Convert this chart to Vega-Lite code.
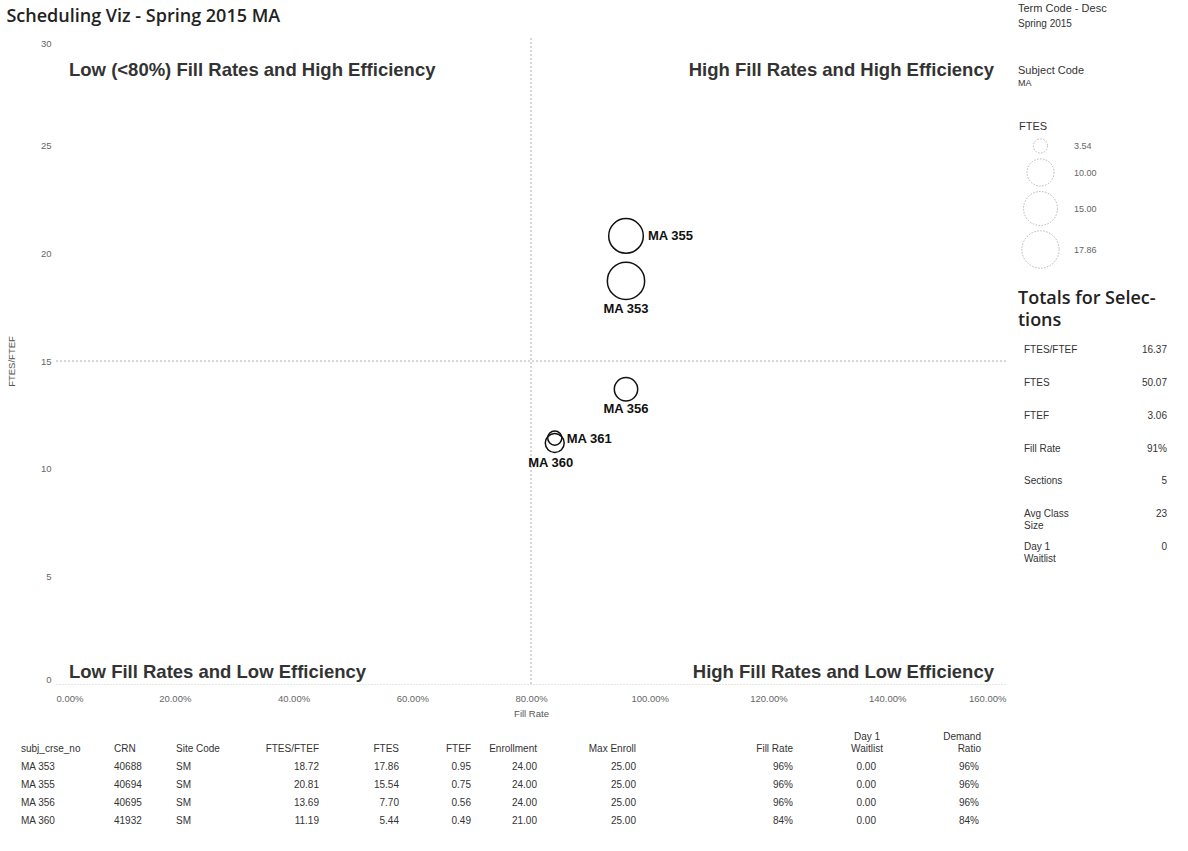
{
  "$schema": "https://vega.github.io/schema/vega-lite/v6.json",
  "background": "white",
  "padding": {"left": 6, "top": 3, "right": 0, "bottom": 0},
  "datasets": {
    "sections": [
      {"course": "MA 353", "crn": "40688", "site": "SM", "ratio": 18.72, "ftes": 17.86, "ftef": 0.95, "enrollment": 24, "max_enroll": 25, "fill_rate": 0.96, "waitlist": 0, "demand_ratio": 0.96},
      {"course": "MA 355", "crn": "40694", "site": "SM", "ratio": 20.81, "ftes": 15.54, "ftef": 0.75, "enrollment": 24, "max_enroll": 25, "fill_rate": 0.96, "waitlist": 0, "demand_ratio": 0.96},
      {"course": "MA 356", "crn": "40695", "site": "SM", "ratio": 13.69, "ftes": 7.70, "ftef": 0.56, "enrollment": 24, "max_enroll": 25, "fill_rate": 0.96, "waitlist": 0, "demand_ratio": 0.96},
      {"course": "MA 360", "crn": "41932", "site": "SM", "ratio": 11.19, "ftes": 5.44, "ftef": 0.49, "enrollment": 21, "max_enroll": 25, "fill_rate": 0.84, "waitlist": 0, "demand_ratio": 0.84},
      {"course": "MA 361", "crn": null, "site": "SM", "ratio": 11.42, "ftes": 3.54, "ftef": 0.31, "enrollment": 21, "max_enroll": 25, "fill_rate": 0.84, "waitlist": 0, "demand_ratio": 0.84}
    ],
    "totals": [
      {"metric": "FTES/FTEF", "value": "16.37"},
      {"metric": "FTES", "value": "50.07"},
      {"metric": "FTEF", "value": "3.06"},
      {"metric": "Fill Rate", "value": "91%"},
      {"metric": "Sections", "value": "5"},
      {"metric": "Avg Class\nSize", "value": "23"},
      {"metric": "Day 1\nWaitlist", "value": "0"}
    ]
  },
  "config": {
    "font": "Liberation Sans",
    "view": {"stroke": null},
    "title": {"font": "Liberation Sans", "fontSize": 11, "fontWeight": "normal", "color": "#333", "anchor": "start", "subtitleFont": "Liberation Sans", "subtitleFontSize": 10, "subtitleColor": "#333"},
    "text": {"font": "Liberation Sans", "fontSize": 10, "color": "#333"},
    "axis": {"labelFont": "Liberation Sans", "titleFont": "Liberation Sans", "labelColor": "#666", "titleColor": "#555", "titleFontWeight": "normal", "labelFontSize": 9.5, "titleFontSize": 9.5, "ticks": false, "tickSize": 0, "grid": false, "domain": false},
    "legend": {"labelFont": "Liberation Sans", "titleFont": "Liberation Sans"}
  },
  "spacing": 14,
  "vconcat": [
    {
      "bounds": "flush",
      "spacing": 12,
      "hconcat": [
        {"width": 23, "height": 646, "data": {"values": []}, "mark": "text"},
        {
          "width": 950,
          "height": 646,
          "title": {"text": "Scheduling Viz - Spring 2015 MA", "anchor": "start", "font": "Open Sans", "fontSize": 18, "fontWeight": 600, "color": "#222", "offset": 12},
          "data": {"name": "sections"},
          "layer": [
            {
              "data": {"values": [{}]},
              "mark": {"type": "rule", "color": "#b0b0b0", "strokeWidth": 1, "strokeDash": [2, 2]},
              "encoding": {"x": {"datum": 0.8, "type": "quantitative"}}
            },
            {
              "data": {"values": [{}]},
              "mark": {"type": "rule", "color": "#b0b0b0", "strokeWidth": 1, "strokeDash": [2, 2]},
              "encoding": {"y": {"datum": 15, "type": "quantitative"}}
            },
            {
              "data": {"values": [{"label": "Low (<80%) Fill Rates and High Efficiency"}]},
              "mark": {"type": "text", "align": "left", "baseline": "middle", "dx": 13, "dy": 32, "fontSize": 18.5, "fontWeight": "bold", "color": "#333"},
              "encoding": {"x": {"datum": 0, "type": "quantitative"}, "y": {"datum": 30, "type": "quantitative"}, "text": {"field": "label"}}
            },
            {
              "data": {"values": [{"label": "High Fill Rates and High Efficiency"}]},
              "mark": {"type": "text", "align": "right", "baseline": "middle", "dx": -12, "dy": 32, "fontSize": 18.5, "fontWeight": "bold", "color": "#333"},
              "encoding": {"x": {"datum": 1.6, "type": "quantitative"}, "y": {"datum": 30, "type": "quantitative"}, "text": {"field": "label"}}
            },
            {
              "data": {"values": [{"label": "Low Fill Rates and Low Efficiency"}]},
              "mark": {"type": "text", "align": "left", "baseline": "middle", "dx": 13, "dy": -12, "fontSize": 18.5, "fontWeight": "bold", "color": "#333"},
              "encoding": {"x": {"datum": 0, "type": "quantitative"}, "y": {"datum": 0, "type": "quantitative"}, "text": {"field": "label"}}
            },
            {
              "data": {"values": [{"label": "High Fill Rates and Low Efficiency"}]},
              "mark": {"type": "text", "align": "right", "baseline": "middle", "dx": -12, "dy": -12, "fontSize": 18.5, "fontWeight": "bold", "color": "#333"},
              "encoding": {"x": {"datum": 1.6, "type": "quantitative"}, "y": {"datum": 0, "type": "quantitative"}, "text": {"field": "label"}}
            },
            {
              "mark": {"type": "point", "shape": "circle", "filled": false, "stroke": "#111", "strokeWidth": 1.5, "opacity": 1},
              "encoding": {
                "x": {"field": "fill_rate", "type": "quantitative", "scale": {"domain": [0, 1.6], "nice": false}, "axis": {"title": "Fill Rate", "format": ".2%", "values": [0, 0.2, 0.4, 0.6, 0.8, 1.0, 1.2, 1.4, 1.6], "labelFlush": true, "labelPadding": 9, "titlePadding": 6, "domain": true, "domainColor": "#cccccc", "domainDash": [1, 2]}},
                "y": {"field": "ratio", "type": "quantitative", "scale": {"domain": [0, 30], "nice": false}, "axis": {"title": "FTES/FTEF", "values": [0, 5, 10, 15, 20, 25, 30], "labelFlush": true, "labelPadding": 5, "titlePadding": 24}},
                "size": {"field": "ftes", "type": "quantitative", "scale": {"domain": [3.54, 17.86], "range": [200, 1390], "zero": false}, "legend": {"title": "FTES", "orient": "none", "legendX": 998, "legendY": 83, "values": [3.54, 10, 15, 17.86], "format": ".2f", "symbolStrokeColor": "#b5b5b5", "symbolDash": [1.5, 1.5], "symbolStrokeWidth": 1, "symbolFillColor": "transparent", "symbolOffset": 2, "labelOffset": 14, "rowPadding": 0, "labelFontSize": 9, "labelColor": "#666", "titleFontSize": 11, "titleColor": "#333", "titleFontWeight": "normal", "titlePadding": 6, "padding": 0}}
              }
            },
            {
              "transform": [{"filter": "datum.course == 'MA 355'"}],
              "mark": {"type": "text", "align": "left", "baseline": "middle", "dx": 22, "fontWeight": "bold", "fontSize": 13, "color": "#111"},
              "encoding": {"x": {"field": "fill_rate", "type": "quantitative"}, "y": {"field": "ratio", "type": "quantitative"}, "text": {"field": "course"}}
            },
            {
              "transform": [{"filter": "datum.course == 'MA 353'"}],
              "mark": {"type": "text", "align": "center", "baseline": "middle", "dy": 28, "fontWeight": "bold", "fontSize": 13, "color": "#111"},
              "encoding": {"x": {"field": "fill_rate", "type": "quantitative"}, "y": {"field": "ratio", "type": "quantitative"}, "text": {"field": "course"}}
            },
            {
              "transform": [{"filter": "datum.course == 'MA 356'"}],
              "mark": {"type": "text", "align": "center", "baseline": "middle", "dy": 20, "fontWeight": "bold", "fontSize": 13, "color": "#111"},
              "encoding": {"x": {"field": "fill_rate", "type": "quantitative"}, "y": {"field": "ratio", "type": "quantitative"}, "text": {"field": "course"}}
            },
            {
              "transform": [{"filter": "datum.course == 'MA 361'"}],
              "mark": {"type": "text", "align": "left", "baseline": "middle", "dx": 12, "dy": 1, "fontWeight": "bold", "fontSize": 13, "color": "#111"},
              "encoding": {"x": {"field": "fill_rate", "type": "quantitative"}, "y": {"field": "ratio", "type": "quantitative"}, "text": {"field": "course"}}
            },
            {
              "transform": [{"filter": "datum.course == 'MA 360'"}],
              "mark": {"type": "text", "align": "center", "baseline": "middle", "dx": -4, "dy": 20, "fontWeight": "bold", "fontSize": 13, "color": "#111"},
              "encoding": {"x": {"field": "fill_rate", "type": "quantitative"}, "y": {"field": "ratio", "type": "quantitative"}, "text": {"field": "course"}}
            }
          ]
        },
        {
          "bounds": "flush",
          "spacing": 10,
          "vconcat": [
            {"width": 160, "height": 46, "title": {"text": "Term Code - Desc", "subtitle": "Spring 2015", "offset": 9, "subtitlePadding": 5}, "data": {"values": []}, "mark": "text"},
            {"width": 160, "height": 230, "title": {"text": "Subject Code", "subtitle": "MA", "subtitleFontSize": 9, "offset": 6, "subtitlePadding": 3}, "data": {"values": []}, "mark": "text"},
            {
              "width": 149,
              "height": 229,
              "title": {"text": ["Totals for Selec-", "tions"], "font": "Open Sans", "fontSize": 18, "fontWeight": 600, "color": "#222", "lineHeight": 22, "offset": 4},
              "data": {"name": "totals"},
              "encoding": {"y": {"field": "metric", "type": "nominal", "sort": null, "axis": null}},
              "layer": [
                {"mark": {"type": "text", "align": "left", "baseline": "middle", "dx": 6, "lineBreak": "\n", "fontSize": 10}, "encoding": {"x": {"value": 0}, "text": {"field": "metric"}}},
                {"mark": {"type": "text", "align": "right", "baseline": "middle", "fontSize": 10}, "encoding": {"x": {"value": "width"}, "text": {"field": "value"}}}
              ]
            }
          ]
        }
      ]
    },
    {
      "bounds": "flush",
      "spacing": 0,
      "hconcat": [
        {"width": 93, "height": 72, "data": {"name": "sections"}, "transform": [{"filter": "datum.course != 'MA 361'"}], "title": {"text": "subj_crse_no", "anchor": "start", "fontSize": 10, "offset": 4}, "mark": {"type": "text", "align": "left", "baseline": "middle"}, "encoding": {"y": {"field": "course", "type": "ordinal", "sort": null, "axis": null}, "x": {"value": 0}, "text": {"field": "course"}}},
        {"width": 62, "height": 72, "data": {"name": "sections"}, "transform": [{"filter": "datum.course != 'MA 361'"}], "title": {"text": "CRN", "anchor": "start", "fontSize": 10, "offset": 4}, "mark": {"type": "text", "align": "left", "baseline": "middle"}, "encoding": {"y": {"field": "course", "type": "ordinal", "sort": null, "axis": null}, "x": {"value": 0}, "text": {"field": "crn"}}},
        {"width": 45, "height": 72, "data": {"name": "sections"}, "transform": [{"filter": "datum.course != 'MA 361'"}], "title": {"text": "Site Code", "anchor": "start", "fontSize": 10, "offset": 4}, "mark": {"type": "text", "align": "left", "baseline": "middle"}, "encoding": {"y": {"field": "course", "type": "ordinal", "sort": null, "axis": null}, "x": {"value": 0}, "text": {"field": "site"}}},
        {"width": 98, "height": 72, "data": {"name": "sections"}, "transform": [{"filter": "datum.course != 'MA 361'"}], "title": {"text": "FTES/FTEF", "anchor": "end", "fontSize": 10, "offset": 4}, "mark": {"type": "text", "align": "right", "baseline": "middle"}, "encoding": {"y": {"field": "course", "type": "ordinal", "sort": null, "axis": null}, "x": {"value": "width"}, "text": {"field": "ratio", "type": "quantitative", "format": ".2f"}}},
        {"width": 80, "height": 72, "data": {"name": "sections"}, "transform": [{"filter": "datum.course != 'MA 361'"}], "title": {"text": "FTES", "anchor": "end", "fontSize": 10, "offset": 4}, "mark": {"type": "text", "align": "right", "baseline": "middle"}, "encoding": {"y": {"field": "course", "type": "ordinal", "sort": null, "axis": null}, "x": {"value": "width"}, "text": {"field": "ftes", "type": "quantitative", "format": ".2f"}}},
        {"width": 72, "height": 72, "data": {"name": "sections"}, "transform": [{"filter": "datum.course != 'MA 361'"}], "title": {"text": "FTEF", "anchor": "end", "fontSize": 10, "offset": 4}, "mark": {"type": "text", "align": "right", "baseline": "middle"}, "encoding": {"y": {"field": "course", "type": "ordinal", "sort": null, "axis": null}, "x": {"value": "width"}, "text": {"field": "ftef", "type": "quantitative", "format": ".2f"}}},
        {"width": 66, "height": 72, "data": {"name": "sections"}, "transform": [{"filter": "datum.course != 'MA 361'"}], "title": {"text": "Enrollment", "anchor": "end", "fontSize": 10, "offset": 4}, "mark": {"type": "text", "align": "right", "baseline": "middle"}, "encoding": {"y": {"field": "course", "type": "ordinal", "sort": null, "axis": null}, "x": {"value": "width"}, "text": {"field": "enrollment", "type": "quantitative", "format": ".2f"}}},
        {"width": 99, "height": 72, "data": {"name": "sections"}, "transform": [{"filter": "datum.course != 'MA 361'"}], "title": {"text": "Max Enroll", "anchor": "end", "fontSize": 10, "offset": 4}, "mark": {"type": "text", "align": "right", "baseline": "middle"}, "encoding": {"y": {"field": "course", "type": "ordinal", "sort": null, "axis": null}, "x": {"value": "width"}, "text": {"field": "max_enroll", "type": "quantitative", "format": ".2f"}}},
        {"width": 157, "height": 72, "data": {"name": "sections"}, "transform": [{"filter": "datum.course != 'MA 361'"}], "title": {"text": "Fill Rate", "anchor": "end", "fontSize": 10, "offset": 4}, "mark": {"type": "text", "align": "right", "baseline": "middle"}, "encoding": {"y": {"field": "course", "type": "ordinal", "sort": null, "axis": null}, "x": {"value": "width"}, "text": {"field": "fill_rate", "type": "quantitative", "format": ".0%"}}},
        {"width": 83, "height": 72, "data": {"name": "sections"}, "transform": [{"filter": "datum.course != 'MA 361'"}], "title": {"text": ["Day 1", "Waitlist"], "anchor": "end", "align": "center", "dx": -9, "fontSize": 10, "offset": 4}, "mark": {"type": "text", "align": "right", "baseline": "middle"}, "encoding": {"y": {"field": "course", "type": "ordinal", "sort": null, "axis": null}, "x": {"value": "width"}, "text": {"field": "waitlist", "type": "quantitative", "format": ".2f"}}},
        {"width": 103, "height": 72, "data": {"name": "sections"}, "transform": [{"filter": "datum.course != 'MA 361'"}], "title": {"text": ["Demand", "Ratio"], "anchor": "end", "dx": 2, "fontSize": 10, "offset": 4}, "mark": {"type": "text", "align": "right", "baseline": "middle"}, "encoding": {"y": {"field": "course", "type": "ordinal", "sort": null, "axis": null}, "x": {"value": "width"}, "text": {"field": "demand_ratio", "type": "quantitative", "format": ".0%"}}}
      ]
    }
  ]
}
